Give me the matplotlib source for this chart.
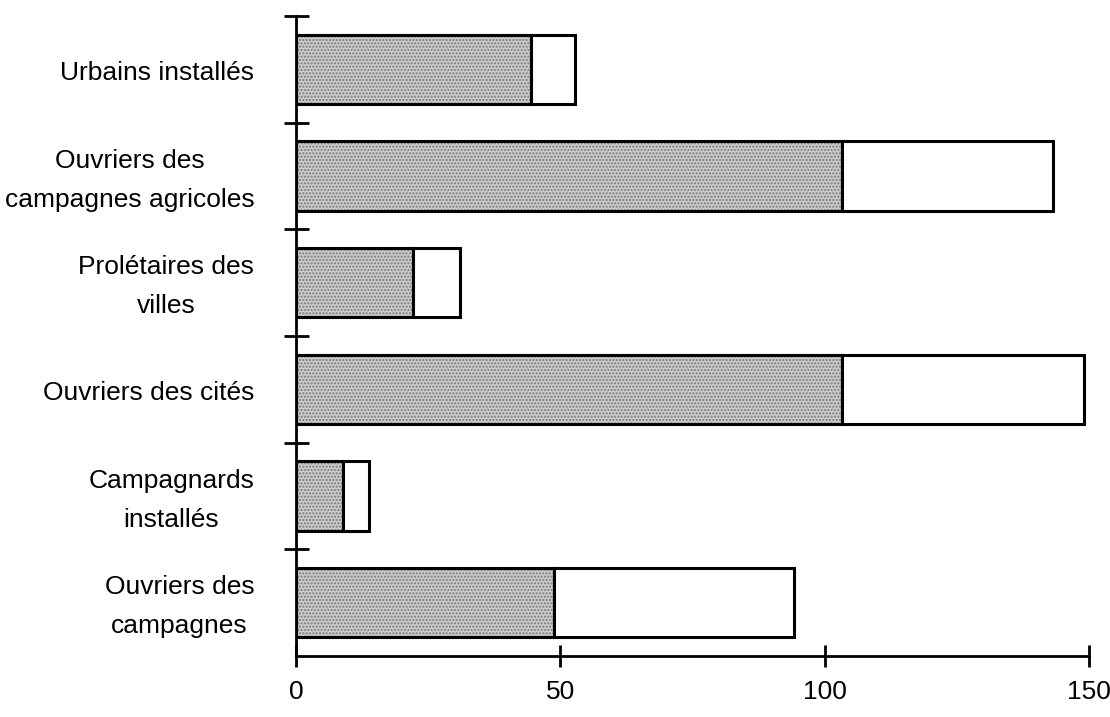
import numpy as np
import matplotlib
matplotlib.use('Agg')
import matplotlib.pyplot as plt

plt.rcParams['font.family'] = ['Liberation Sans', 'DejaVu Sans']

categories = ['Urbains installés',
              'Ouvriers des\ncampagnes agricoles',
              'Prolétaires des\nvilles',
              'Ouvriers des cités',
              'Campagnards\ninstallés',
              'Ouvriers des\ncampagnes']
first = [44.5, 103.2, 22.1, 103.2, 8.9, 48.8]
second = [8.2, 39.9, 8.9, 45.8, 5.0, 45.4]
xticks = [0, 50, 100, 150]

fig = plt.figure(figsize=(11.1, 7.17), dpi=100)
ax = fig.add_axes([296 / 1110, 1 - 656 / 717, 793 / 1110, 640 / 717])

n = len(categories)
y = np.arange(n)[::-1]
h = 0.65

# hatched grey fill, then black outlines on top
ax.barh(y, first, height=h, color='#cacaca', edgecolor='#7a7a7a', hatch='.....', linewidth=0)
ax.barh(y, first, height=h, fill=False, edgecolor='black', linewidth=2.2)
ax.barh(y, second, left=first, height=h, color='white', edgecolor='black', linewidth=2.2)

ax.set_xlim(0, 150)
ax.set_ylim(-0.5, n - 0.5)

for s in ['top', 'right']:
    ax.spines[s].set_visible(False)
ax.spines['left'].set_linewidth(2)
ax.spines['bottom'].set_linewidth(2)

ax.set_xticks(xticks)
ax.tick_params(axis='x', direction='inout', length=16, width=2, labelsize=19, pad=9)

# ticks between categories, labels drawn as text so line spacing sticks
ax.set_yticks(np.arange(n) + 0.5)
ax.set_yticklabels([])
ax.tick_params(axis='y', which='major', direction='inout', length=18, width=2)
for yi, lab in zip(y, categories):
    ax.annotate(lab, xy=(0, yi), xycoords=('axes fraction', 'data'),
                xytext=(-30, -3), textcoords='offset points',
                ha='right', va='center', multialignment='center',
                fontsize=19, linespacing=1.8)

fig.savefig('out.png', dpi=100)
